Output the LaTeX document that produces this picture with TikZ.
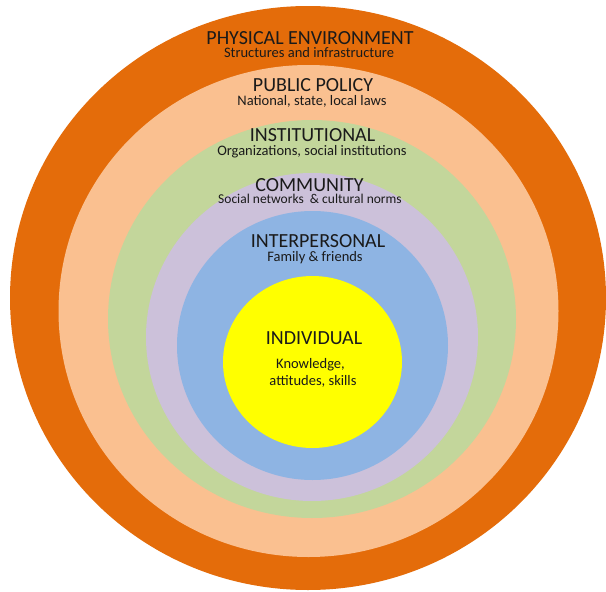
\documentclass[tikz,border=0pt]{standalone}
\usepackage{fontspec}
\setmainfont{Carlito}
\definecolor{ringPhysical}{HTML}{E46C0A}
\definecolor{ringPolicy}{HTML}{FAC090}
\definecolor{ringInstitution}{HTML}{C3D69B}
\definecolor{ringCommunity}{HTML}{CCC1DA}
\definecolor{ringPersonal}{HTML}{8EB4E3}
\definecolor{ringIndividual}{HTML}{FFFF00}
\definecolor{labelInk}{HTML}{1A1A1A}
\tikzset{
  level/.style={font=\fontsize{20}{24}\selectfont, text=labelInk, anchor=base, inner sep=0pt},
  levelnote/.style={font=\fontsize{14.5}{17}\selectfont, text=labelInk, anchor=base, inner sep=0pt},
}
\begin{document}
\begin{tikzpicture}[x=1pt,y=-1pt]
  \useasboundingbox (0,0) rectangle (606,592);
  \fill[white] (0,0) rectangle (606,592);
  % nested rings, outermost first
  \fill[ringPhysical]    (308,298)   ellipse [x radius=298pt, y radius=292pt];
  \fill[ringPolicy]      (308.5,311) ellipse [x radius=250pt, y radius=246pt];
  \fill[ringInstitution] (312,319)   ellipse [x radius=204pt, y radius=199pt];
  \fill[ringCommunity]   (312,337)   ellipse [x radius=166pt, y radius=164pt];
  \fill[ringPersonal]    (312.5,345.5) ellipse [x radius=135.5pt, y radius=134.5pt];
  \fill[ringIndividual]  (312.5,362) ellipse [x radius=89.5pt, y radius=86pt];
  % level names and descriptions
  \node[level]     (physical)   at (310,44.5)  {PHYSICAL ENVIRONMENT};
  \node[levelnote] (physicalD)  at (309,57)  {Structures and infrastructure};
  \node[level]     (policy)     at (313,91.5)  {PUBLIC POLICY};
  \node[levelnote] (policyD)    at (312,105) {National, state, local laws};
  \node[level]     (inst)       at (312.5,141.5) {INSTITUTIONAL};
  \node[levelnote] (instD)      at (312,155) {Organizations, social institutions};
  \node[level]     (comm)       at (309.5,191.5) {COMMUNITY};
  \node[levelnote,font=\fontsize{13.5}{16}\selectfont] (commD) at (310,203.5) {Social networks \ \& cultural norms};
  \node[level]     (inter)      at (318,247) {INTERPERSONAL};
  \node[levelnote] (interD)     at (315,261.5) {Family \& friends};
  \node[level]     (indiv)      at (314,344) {INDIVIDUAL};
  \node[levelnote] (indivD1)    at (310.5,368) {Knowledge,};
  \node[levelnote] (indivD2)    at (313,385) {attitudes, skills};
\end{tikzpicture}
\end{document}
